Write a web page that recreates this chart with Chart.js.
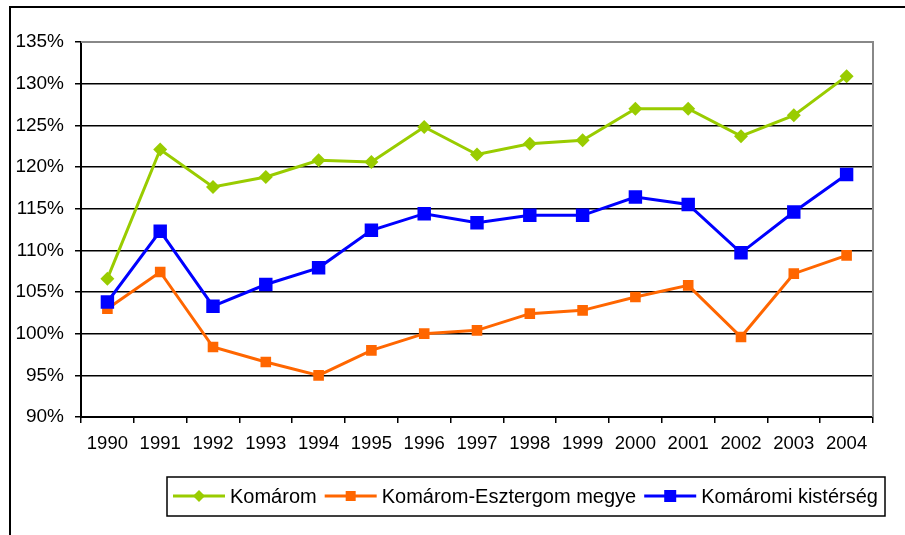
<!DOCTYPE html>
<html>
<head>
<meta charset="utf-8">
<script src="https://cdn.jsdelivr.net/npm/chart.js@4"></script>
<style>
html, body { margin: 0; padding: 0; background: #fff; }
</style>
</head>
<body>
<canvas id="canvas" width="905" height="535"></canvas>
<script>
var years = ['1990', '1991', '1992', '1993', '1994', '1995', '1996', '1997', '1998', '1999', '2000', '2001', '2002', '2003', '2004'];
var komarom = [106.6, 122.1, 117.6, 118.8, 120.8, 120.6, 124.8, 121.5, 122.8, 123.2, 127.0, 127.0, 123.7, 126.2, 130.9];
var megye = [103.0, 107.4, 98.4, 96.6, 95.0, 98.0, 100.0, 100.4, 102.4, 102.8, 104.4, 105.8, 99.6, 107.2, 109.4];
var kisterseg = [103.8, 112.3, 103.3, 105.9, 107.9, 112.4, 114.4, 113.3, 114.2, 114.2, 116.4, 115.5, 109.7, 114.6, 119.1];
var seriesNames = ['Komárom', 'Komárom-Esztergom megye', 'Komáromi kistérség'];
var seriesColors = ['#99cc00', '#ff6600', '#0000ff'];
var yMin = 90, yMax = 135, yStep = 5;

// frame, plot border and the boxed legend
var decor = {
    id: 'decor',
    beforeDatasetsDraw: function(chart){
        var ctx = chart.ctx, a = chart.chartArea;
        ctx.save();
        ctx.strokeStyle = '#888';
        ctx.lineWidth = 2;
        ctx.beginPath();
        ctx.moveTo(a.left, a.top);
        ctx.lineTo(a.right, a.top);
        ctx.lineTo(a.right, a.bottom);
        ctx.stroke();
        ctx.restore();
    },
    afterDraw: function(chart){
        var ctx = chart.ctx;
        ctx.save();
        // outer frame
        ctx.strokeStyle = '#000';
        ctx.lineWidth = 2;
        ctx.beginPath();
        ctx.moveTo(10, 535);
        ctx.lineTo(10, 7);
        ctx.lineTo(905, 7);
        ctx.stroke();

        // legend box
        ctx.lineWidth = 1.5;
        ctx.strokeRect(167, 477, 718, 39);

        ctx.font = '20px Arial, "Liberation Sans"';
        ctx.textBaseline = 'middle';
        var x = 173, y = 496;
        var sizes = [5, 5, 6];
        chart.data.datasets.forEach(function(ds, i){
            ctx.strokeStyle = ds.borderColor;
            ctx.fillStyle = ds.borderColor;
            ctx.lineWidth = 3;
            ctx.beginPath();
            ctx.moveTo(x, y);
            ctx.lineTo(x + 52, y);
            ctx.stroke();
            var cx = x + 26, s = sizes[i];
            ctx.beginPath();
            if (i == 0) {
                ctx.moveTo(cx, y - s - 1);
                ctx.lineTo(cx + s + 1, y);
                ctx.lineTo(cx, y + s + 1);
                ctx.lineTo(cx - s - 1, y);
                ctx.closePath();
            } else {
                ctx.rect(cx - s, y - s, 2 * s, 2 * s);
            }
            ctx.fill();
            ctx.fillStyle = '#000';
            ctx.fillText(ds.label, x + 57, y + 1);
            x += 57 + ctx.measureText(ds.label).width + 8;
        });
        ctx.restore();
    }
};

var ctx = document.getElementById('canvas').getContext('2d');
var myChart = new Chart(ctx, {
    type: 'line',
    data: {
        labels: years,
        datasets: [{
            label: seriesNames[0],
            data: komarom,
            borderColor: seriesColors[0],
            backgroundColor: seriesColors[0],
            borderWidth: 3,
            pointStyle: 'rectRot',
            pointRadius: 7,
            pointBorderWidth: 0,
            tension: 0,
            order: 2
        },
        {
            label: seriesNames[1],
            data: megye,
            borderColor: seriesColors[1],
            backgroundColor: seriesColors[1],
            borderWidth: 3,
            pointStyle: 'rect',
            pointRadius: 7.5,
            pointBorderWidth: 0,
            tension: 0,
            order: 1
        },
        {
            label: seriesNames[2],
            data: kisterseg,
            borderColor: seriesColors[2],
            backgroundColor: seriesColors[2],
            borderWidth: 3,
            pointStyle: 'rect',
            pointRadius: 9.5,
            pointBorderWidth: 0,
            tension: 0,
            order: 0
        }]
    },
    options: {
        responsive: false,
        animation: false,
        layout: { padding: { left: 0, top: 42, right: 32, bottom: 0 } },
        plugins: {
            legend: { display: false },
            tooltip: { enabled: false }
        },
        scales: {
            x: {
                offset: true,
                grid: { offset: true, drawOnChartArea: false, tickLength: 6, color: '#000', lineWidth: 1.5 },
                border: { color: '#000', width: 2 },
                ticks: { color: '#000', font: { family: 'Arial', size: 18.5 }, padding: 10, maxRotation: 0, autoSkip: false },
                afterFit: function(s){ s.height = 118; }
            },
            y: {
                min: yMin,
                max: yMax,
                grid: { color: '#000', lineWidth: 1.5, tickLength: 6 },
                border: { color: '#000', width: 2 },
                ticks: {
                    stepSize: yStep,
                    color: '#000',
                    font: { family: 'Arial', size: 19 },
                    padding: 11,
                    callback: function(v){ return v + '%'; }
                },
                afterFit: function(s){ s.width = 81; }
            }
        }
    },
    plugins: [decor]
});
</script>
</body>
</html>
